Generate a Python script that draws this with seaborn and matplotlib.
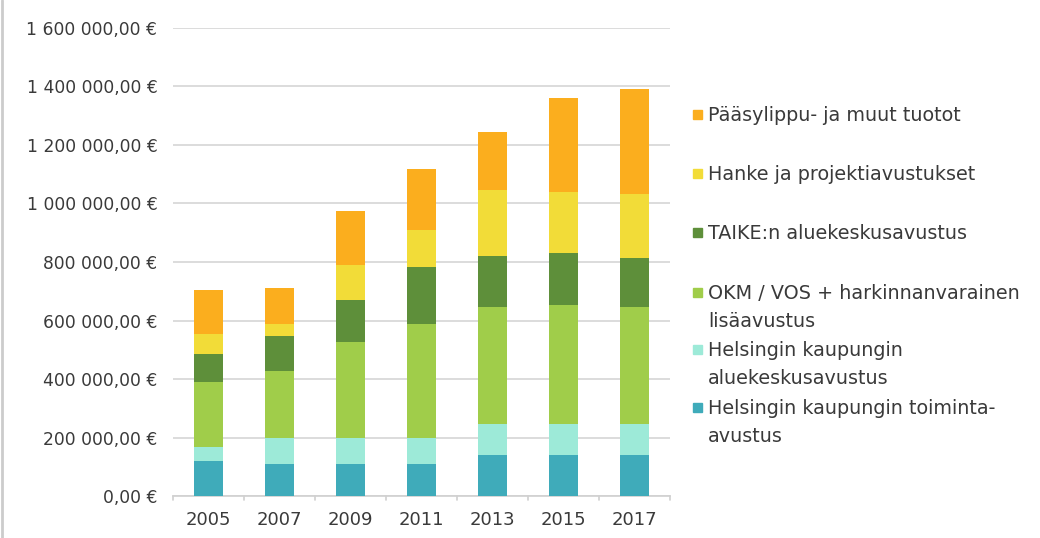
import matplotlib
matplotlib.use("Agg")
import matplotlib.pyplot as plt
import seaborn as sns
import pandas as pd
import numpy as np
from matplotlib.lines import Line2D
from matplotlib.patches import Rectangle

sns.set_style("white")
plt.rcParams['font.family'] = ['DejaVu Sans']

# Datos (euros)
vuodet = ["2005", "2007", "2009", "2011", "2013", "2015", "2017"]
sarjat = ["Helsingin kaupungin toiminta-\navustus",
          "Helsingin kaupungin\naluekeskusavustus",
          "OKM / VOS + harkinnanvarainen\nlisäavustus",
          "TAIKE:n aluekeskusavustus",
          "Hanke ja projektiavustukset",
          "Pääsylippu- ja muut tuotot"]
toiminta = [120000, 108000, 108000, 108000, 141000, 141000, 141000]
aluekeskus = [47000, 91000, 91000, 91000, 104000, 104000, 104000]
okm = [222000, 230000, 329000, 388000, 401000, 409000, 401000]
taike = [97000, 118000, 143000, 195000, 176000, 176000, 169000]
hanke = [69000, 40000, 119000, 126000, 225000, 211000, 218000]
paasylippu = [150000, 125000, 184000, 209000, 196000, 319000, 360000]
varit = ["#3FABBA", "#9DEAD8", "#A0CD4A", "#5E8F3A", "#F2DC38", "#FBAE1E"]

arvot = [toiminta, aluekeskus, okm, taike, hanke, paasylippu]
df = pd.DataFrame({s: a for s, a in zip(sarjat, arvot)}, index=vuodet)

fig = plt.figure(figsize=(10.4, 5.38), dpi=100)
ax = fig.add_axes([0.166, 0.078, 0.478, 0.87])

# Pinotut pylväät: piirretään kumulatiiviset summat ylhäältä alas
kumul = df.cumsum(axis=1)
for s, c in zip(reversed(sarjat), reversed(varit)):
    sns.barplot(x=kumul.index, y=kumul[s].values, color=c, width=0.41,
                saturation=1, ax=ax, zorder=3, linewidth=0)

ax.set_ylim(0, 1600000)
ax.set_xlim(-0.5, len(vuodet) - 0.5)
tikit = np.arange(0, 1600001, 200000)
ax.set_yticks(tikit)
ax.set_yticklabels([f"{v:,.2f} €".replace(",", " ").replace(".", ",") for v in tikit])
ax.yaxis.grid(True, color="#d9d9d9", linewidth=1.3, zorder=0)
ax.set_axisbelow(True)
for sp in ["top", "right", "left"]:
    ax.spines[sp].set_visible(False)
ax.spines["bottom"].set_color("#d0d0d0")
ax.spines["bottom"].set_linewidth(1.2)
ax.tick_params(axis="y", length=0, pad=11, labelsize=12.3, labelcolor="#3a3a3a")
ax.tick_params(axis="x", length=0, pad=11, labelsize=13, labelcolor="#3a3a3a")
ax.set_xlabel("")
ax.set_ylabel("")

# Väliviivat kategorioiden välissä
for xb in np.arange(-0.5, len(vuodet), 1.0):
    ax.plot([xb, xb], [0, -14000], color="#d0d0d0", lw=1.2, clip_on=False)

# Selite (käsin, merkki ensimmäisen rivin kohdalla)
rivit_y = [115, 174, 233, 293, 350, 408]
for yy, s, c in zip(rivit_y, reversed(sarjat), reversed(varit)):
    fy = 1 - yy / 538
    fig.add_artist(Rectangle((693 / 1040, fy - 4 / 538), 9 / 1040, 9 / 538,
                             color=c, transform=fig.transFigure))
    fig.text(708 / 1040, fy + 9 / 538, s, va="top", ha="left", fontsize=13.8,
             color="#3a3a3a", linespacing=1.6)

# Kehys vasemmalla
fig.add_artist(Line2D([0.002, 0.002], [0, 1], color="#cccccc", lw=2, transform=fig.transFigure))

fig.savefig("out.png", dpi=100)
